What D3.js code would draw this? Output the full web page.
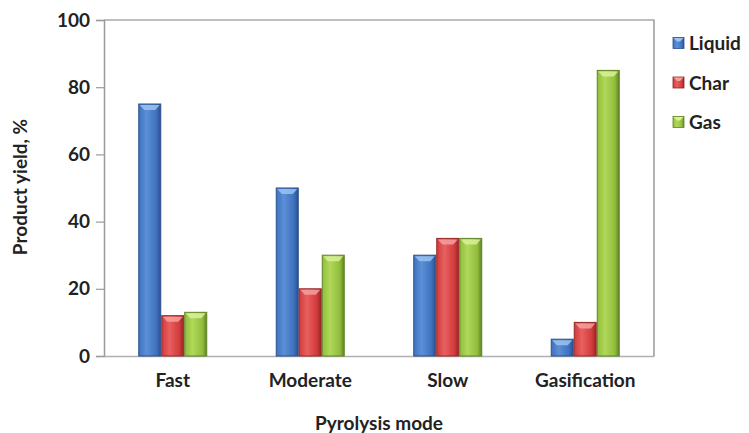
<!DOCTYPE html>
<html><head><meta charset="utf-8">
<script src="https://cdn.jsdelivr.net/npm/d3@7"></script>
<style>html,body{margin:0;padding:0;background:#fff;}svg{display:block;}</style>
</head><body>
<svg id="c" width="749" height="433"></svg>
<script>
const categories = ["Fast", "Moderate", "Slow", "Gasification"];
const seriesNames = ["Liquid", "Char", "Gas"];
const liquid = [75, 50, 30, 5];
const charV = [12, 20, 35, 10];
const gas = [13, 30, 35, 85];
const yTicks = [0, 20, 40, 60, 80, 100];
const seriesValues = [liquid, charV, gas];
const colors = [
  {light:"#5b8fd6", mid:"#3f72bf", dark:"#2a4f8c", top:"#9cc2ee"},
  {light:"#e86060", mid:"#d23b3b", dark:"#962626", top:"#f4a0a0"},
  {light:"#b0d85a", mid:"#92bd3c", dark:"#5f8424", top:"#d8f09a"}
];

const svg = d3.select("#c");
const font = "Lato, 'Open Sans', sans-serif";
const fs = 19;
const m = {l:104, r:654, t:20, b:356};
const x = d3.scaleBand().domain(categories).range([m.l, m.r]).paddingInner(0).paddingOuter(0);
const x1 = d3.scaleBand().domain(seriesNames).range([0, 69]);
const y = d3.scaleLinear().domain([0, 100]).range([m.b, m.t]);

const defs = svg.append("defs");
colors.forEach((c, i) => {
  const g = defs.append("linearGradient").attr("id", "g" + i).attr("x1", 0).attr("x2", 1).attr("y1", 0).attr("y2", 0);
  g.append("stop").attr("offset", "0%").attr("stop-color", c.mid);
  g.append("stop").attr("offset", "35%").attr("stop-color", c.light);
  g.append("stop").attr("offset", "80%").attr("stop-color", c.mid);
  g.append("stop").attr("offset", "100%").attr("stop-color", c.dark);
});

// plot border (top & right)
svg.append("path").attr("d", `M${m.l},${m.t}H${m.r}V${m.b}`).attr("fill", "none").attr("stroke", "#7f7f7f").attr("stroke-width", 1.2);

// y axis
const ya = svg.append("g").attr("transform", `translate(${m.l},0)`)
  .call(d3.axisLeft(y).tickValues(yTicks).tickSize(8).tickPadding(6));
ya.select(".domain").attr("stroke", "#9a9a9a").attr("stroke-width", 1.5);
ya.selectAll(".tick line").attr("stroke", "#9a9a9a").attr("stroke-width", 1.2);
ya.selectAll("text").attr("font-family", font).attr("font-weight", "bold").attr("font-size", fs).attr("fill", "#222");

// x axis
const xa = svg.append("g").attr("transform", `translate(0,${m.b})`)
  .call(d3.axisBottom(x).tickSize(0).tickPadding(18));
xa.select(".domain").attr("stroke", "#b0b0b0").attr("stroke-width", 1.5);
xa.selectAll("text").attr("font-family", font).attr("font-weight", "bold").attr("font-size", fs).attr("fill", "#222");

// bars
const bw = 69;
seriesValues.forEach((vals, si) => {
  const c = colors[si];
  const gs = svg.append("g");
  categories.forEach((cat, ci) => {
    const bx = x(cat) + (x.bandwidth() - bw) / 2 + x1(seriesNames[si]);
    const w = x1.bandwidth();
    const by = y(vals[ci]);
    const h = m.b - by;
    gs.append("rect").attr("x", bx + 0.5).attr("y", by).attr("width", w - 1).attr("height", h)
      .attr("fill", `url(#g${si})`).attr("stroke", c.dark).attr("stroke-width", 1);
    // top bevel highlight
    gs.append("path")
      .attr("d", `M${bx + 1.5},${by + 1}H${bx + w - 1.5}L${bx + w - 6},${by + 6}H${bx + 6}Z`)
      .attr("fill", c.top).attr("opacity", 0.85);
  });
});

// y title
svg.append("text").attr("transform", `translate(27,${187}) rotate(-90)`)
  .attr("text-anchor", "middle").attr("font-family", font).attr("font-weight", "bold")
  .attr("font-size", fs).attr("fill", "#222").text("Product yield, %");

// x title
svg.append("text").attr("x", (m.l + m.r) / 2).attr("y", 430).attr("text-anchor", "middle")
  .attr("font-family", font).attr("font-weight", "bold").attr("font-size", fs).attr("fill", "#222")
  .text("Pyrolysis mode");

// legend
const lg = svg.append("g");
seriesNames.forEach((s, i) => {
  const cy = 43 + i * 39.5;
  lg.append("rect").attr("x", 673).attr("y", cy - 5.5).attr("width", 11).attr("height", 11)
    .attr("fill", `url(#g${i})`).attr("stroke", colors[i].dark).attr("stroke-width", 0.8);
  lg.append("path").attr("d", `M${673.5},${cy - 5}H${683.5}L${680},${cy - 1.5}H${677}Z`).attr("fill", colors[i].top);
  lg.append("text").attr("x", 689).attr("y", cy + 7).attr("font-family", font).attr("font-weight", "bold")
    .attr("font-size", fs).attr("fill", "#222").text(s);
});
</script>
</body></html>
